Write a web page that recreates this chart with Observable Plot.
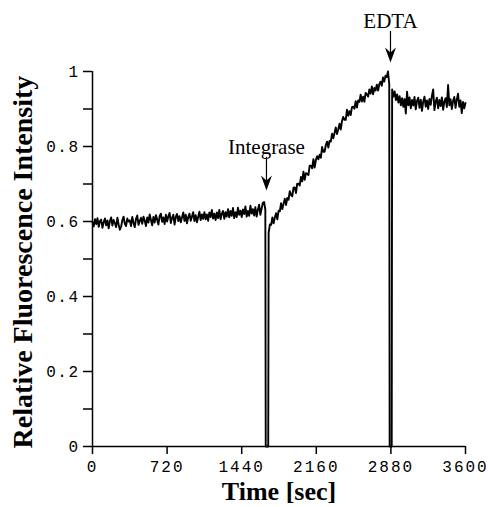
<!DOCTYPE html>
<html>
<head>
<meta charset="utf-8">
<script src="https://cdn.jsdelivr.net/npm/d3@7"></script>
<script src="https://cdn.jsdelivr.net/npm/@observablehq/plot@0.6"></script>
<style>
  html, body { margin: 0; padding: 0; background: #fff; }
  #chart { width: 490px; height: 507px; }
</style>
</head>
<body>
<div id="chart"></div>
<script>
// ---- data ----
const sampleStep = 12; // seconds between samples

// baseline before integrase, t = 0, 12, ..., 1668
const baselineStart = 0;
const baselineValues = [
  0.599,0.587,0.606,0.593,0.609,0.586,0.601,0.605,0.583,0.598,
  0.608,0.590,0.603,0.582,0.601,0.611,0.589,0.604,0.596,0.585,
  0.610,0.592,0.578,0.586,0.603,0.613,0.594,0.588,0.608,0.600,
  0.603,0.588,0.612,0.597,0.585,0.607,0.616,0.591,0.601,0.610,
  0.594,0.613,0.602,0.588,0.611,0.597,0.619,0.604,0.590,0.612,
  0.597,0.617,0.605,0.592,0.614,0.621,0.599,0.611,0.593,0.618,
  0.600,0.614,0.623,0.596,0.610,0.618,0.592,0.613,0.620,0.601,
  0.614,0.598,0.611,0.624,0.601,0.618,0.595,0.612,0.621,0.602,
  0.613,0.625,0.601,0.617,0.598,0.612,0.626,0.604,0.619,0.607,
  0.625,0.606,0.619,0.602,0.624,0.612,0.631,0.608,0.621,0.604,
  0.624,0.609,0.631,0.606,0.621,0.628,0.607,0.625,0.613,0.633,
  0.611,0.628,0.615,0.636,0.609,0.625,0.612,0.637,0.618,0.629,
  0.612,0.632,0.620,0.640,0.613,0.628,0.615,0.642,0.621,0.633,
  0.616,0.638,0.613,0.631,0.645,0.618,0.634,0.650,0.652,0.632
];

// rise after integrase, t = 1700, 1712, ..., 2864
const riseStart = 1700;
const riseValues = [
  0.570,0.592,0.591,0.611,0.595,0.611,0.622,0.606,0.629,0.627,
  0.649,0.633,0.647,0.661,0.644,0.663,0.658,0.681,0.671,0.667,
  0.690,0.691,0.676,0.701,0.701,0.696,0.719,0.707,0.733,0.711,
  0.729,0.727,0.724,0.749,0.749,0.742,0.766,0.744,0.764,0.774,
  0.766,0.778,0.770,0.799,0.786,0.786,0.804,0.813,0.797,0.815,
  0.813,0.834,0.822,0.836,0.851,0.833,0.846,0.861,0.845,0.868,
  0.879,0.871,0.871,0.898,0.882,0.894,0.884,0.905,0.906,0.901,
  0.921,0.904,0.923,0.919,0.938,0.920,0.933,0.919,0.943,0.939,
  0.933,0.952,0.941,0.960,0.939,0.956,0.949,0.965,0.949,0.966,
  0.973,0.962,0.984,0.973,0.989,0.985,1.000,0.966
];

// plateau after EDTA, t = 2892, 2904, ..., 3600
const plateauStart = 2892;
const plateauValues = [
  0.952,0.933,0.947,0.924,0.939,0.917,0.934,0.910,0.929,0.906,
  0.927,0.888,0.946,0.910,0.931,0.902,0.924,0.909,0.932,0.899,
  0.922,0.930,0.903,0.925,0.895,0.920,0.933,0.906,0.923,0.900,
  0.927,0.911,0.935,0.952,0.897,0.919,0.930,0.902,0.924,0.908,
  0.931,0.898,0.920,0.929,0.905,0.964,0.910,0.926,0.900,0.921,
  0.932,0.903,0.925,0.941,0.906,0.923,0.889,0.919,0.902,0.916
];

// moments where the trace drops to zero and comes back (sec)
const integraseDrop = [1672, 1696];
const edtaDrop = [2868, 2888];

// annotations
const annotations = [
  {label: "Integrase", t: 1679, textY: 0.781, shaftTop: 0.771, shaftBottom: 0.700, tip: 0.683},
  {label: "EDTA", t: 2876, textY: 1.115, shaftTop: 1.107, shaftBottom: 1.040, tip: 1.024}
];

const xTicks = [0, 720, 1440, 2160, 2880, 3600];
const yMajorTicks = [0, 0.2, 0.4, 0.6, 0.8, 1];
const yMinorTicks = [0.1, 0.3, 0.5, 0.7, 0.9];

// ---- build trace table ----
const trace = [];
baselineValues.forEach((v, i) => trace.push({t: baselineStart + i * sampleStep, v}));
trace.push({t: integraseDrop[0], v: 0}, {t: integraseDrop[1], v: 0});
riseValues.forEach((v, i) => trace.push({t: riseStart + i * sampleStep, v}));
trace.push({t: edtaDrop[0], v: 0}, {t: edtaDrop[1], v: 0});
plateauValues.forEach((v, i) => trace.push({t: plateauStart + i * sampleStep, v}));

// barbed arrowhead symbol, origin at the tip, pointing down
const arrowHead = {
  draw(ctx) {
    ctx.moveTo(0, 0);
    ctx.lineTo(-5.5, -15);
    ctx.lineTo(0, -10);
    ctx.lineTo(5.5, -15);
    ctx.closePath();
  }
};

const mono = "'Liberation Mono', 'DejaVu Sans Mono', monospace";
const serif = "'Liberation Serif', 'DejaVu Serif', serif";

const chart = Plot.plot({
  width: 490,
  height: 507,
  marginLeft: 92,
  marginRight: 25,
  marginTop: 71,
  marginBottom: 61,
  style: {background: "white", color: "black"},
  x: {domain: [0, 3600]},
  y: {domain: [0, 1]},
  marks: [
    Plot.axisX({ticks: xTicks, tickSize: 8, tickPadding: 6, tickFormat: d => String(d),
      fontFamily: mono, fontSize: 16, strokeWidth: 1.5, label: null}),
    Plot.axisY({ticks: yMajorTicks, tickSize: 9, tickPadding: 4, tickFormat: d => String(d),
      fontFamily: mono, fontSize: 16, strokeWidth: 1.5, label: null}),
    Plot.axisY({ticks: yMinorTicks, tickSize: 9, tickFormat: () => "", strokeWidth: 1.5, label: null}),
    Plot.ruleX([0], {y1: 0, y2: 1, strokeWidth: 1.5}),
    Plot.ruleY([0], {x1: 0, x2: 3600, strokeWidth: 1.5}),
    Plot.line(trace, {x: "t", y: "v", stroke: "black", strokeWidth: 1.9}),
    Plot.ruleX(annotations, {x: "t", y1: "shaftTop", y2: "shaftBottom", strokeWidth: 1.2}),
    Plot.dot(annotations, {x: "t", y: "tip", symbol: arrowHead, fill: "black", stroke: "none", r: 5}),
    Plot.text(annotations, {x: "t", y: "textY", text: "label", lineAnchor: "bottom",
      fontFamily: serif, fontSize: 21, fill: "black"}),
    Plot.text(["Time [sec]"], {frameAnchor: "bottom", dy: 53, lineAnchor: "bottom",
      fontFamily: serif, fontWeight: "bold", fontSize: 26, fill: "black"}),
    Plot.text(["Relative Fluorescence Intensity"], {frameAnchor: "left", textAnchor: "middle", rotate: -90,
      dx: -61, dy: 3, lineAnchor: "bottom", fontFamily: serif, fontWeight: "bold", fontSize: 28, fill: "black"})
  ]
});

d3.select(chart).selectAll('g[aria-label="x-axis tick label"] text').style("letter-spacing", "2px");
d3.select(chart).selectAll('g[aria-label="y-axis tick label"] text').style("letter-spacing", "1.5px");

document.getElementById("chart").appendChild(chart);
</script>
</body>
</html>
